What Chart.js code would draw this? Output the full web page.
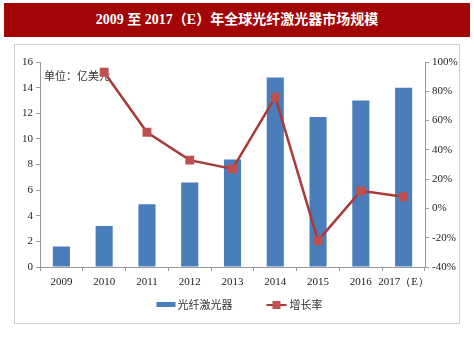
<!DOCTYPE html>
<html>
<head>
<meta charset="utf-8">
<script src="https://cdn.jsdelivr.net/npm/chart.js@4/dist/chart.umd.min.js"></script>
<style>
  html, body { margin: 0; padding: 0; background: #fff; width: 474px; height: 356px; overflow: hidden; }
  #title { position: absolute; left: 4px; top: 3px; width: 466px; height: 34px; background: #A10505;
    color: #fff; font: bold 14px "Liberation Serif", "Noto Sans CJK SC", serif; text-align: center; line-height: 34px; }
  #frame { position: absolute; left: 14px; top: 44px; width: 444px; height: 278px; border: 1px solid #cfcfcf; }
  canvas { display: block; }
</style>
</head>
<body>
<div id="title">2009 至 2017（E）年全球光纤激光器市场规模</div>
<div id="frame"><canvas id="c" width="444" height="278"></canvas></div>
<script>
const categories = ["2009", "2010", "2011", "2012", "2013", "2014", "2015", "2016", "2017（E）"];
const marketSize = [1.6, 3.2, 4.9, 6.6, 8.4, 14.8, 11.7, 13.0, 14.0];
const growthRate = [null, 93, 52, 33, 27, 76, -22, 12, 8];
const leftTicks = [0, 16, 2];
const rightTicks = [-40, 100, 20];
const seriesNames = ["光纤激光器", "增长率"];
const unitLabel = "单位：亿美元";

const BLUE = "#4A7EBB";
const RED_LINE = "#A83A3A";
const RED_PT = "#C0504D";

const unitPlugin = {
  id: "unit",
  beforeDatasetsDraw(chart) {
    const ctx = chart.ctx;
    ctx.save();
    ctx.fillStyle = "#333";
    ctx.font = '11px "Noto Sans CJK SC", sans-serif';
    ctx.textBaseline = "middle";
    ctx.fillText(unitLabel, chart.chartArea.left + 4, chart.chartArea.top + 14);
    ctx.restore();
  }
};

const legendPlugin = {
  id: "customLegend",
  afterDraw(chart) {
    const ctx = chart.ctx;
    const y = chart.chartArea.bottom + 38;
    const cx = (chart.chartArea.left + chart.chartArea.right) / 2;
    ctx.save();
    ctx.font = '11px "Noto Sans CJK SC", sans-serif';
    ctx.textBaseline = "middle";
    ctx.fillStyle = "#333";
    // item 1: bar
    let x = cx - 76;
    ctx.fillStyle = BLUE;
    ctx.fillRect(x, y - 3, 19, 5);
    ctx.fillStyle = "#333";
    ctx.fillText(seriesNames[0], x + 21, y);
    // item 2: line
    x = cx + 34;
    ctx.strokeStyle = RED_LINE; ctx.lineWidth = 2;
    ctx.beginPath(); ctx.moveTo(x, y); ctx.lineTo(x + 20, y); ctx.stroke();
    ctx.fillStyle = RED_PT; ctx.fillRect(x + 6, y - 4, 8, 8);
    ctx.fillStyle = "#333";
    ctx.fillText(seriesNames[1], x + 23, y);
    ctx.restore();
  }
};

const tickFont = { family: '"Liberation Serif", serif', size: 11 };

new Chart(document.getElementById("c"), {
  type: "bar",
  data: {
    labels: categories,
    datasets: [
      {
        type: "line", label: seriesNames[1], data: growthRate, yAxisID: "y1",
        borderColor: RED_LINE, borderWidth: 2.5, pointStyle: "rect", pointRadius: 4.5,
        pointBackgroundColor: RED_PT, pointBorderColor: RED_PT, tension: 0, order: 0,
        spanGaps: false
      },
      {
        type: "bar", label: seriesNames[0], data: marketSize, yAxisID: "y",
        backgroundColor: BLUE, categoryPercentage: 1, barPercentage: 0.4, order: 1
      }
    ]
  },
  options: {
    responsive: false,
    animation: false,
    layout: { padding: { top: 17, left: 0, right: 0, bottom: 34 } },
    plugins: {
      tooltip: { enabled: false },
      legend: { display: false }
    },
    scales: {
      x: {
        grid: { display: true, drawOnChartArea: false, offset: true, tickLength: 4, color: "#999" },
        border: { color: "#999" },
        ticks: { color: "#222", font: tickFont, maxRotation: 0, autoSkip: false, padding: 5 },
        afterFit(s) { s.height = 22; }
      },
      y: {
        position: "left", min: leftTicks[0], max: leftTicks[1],
        ticks: { stepSize: leftTicks[2], color: "#222", font: tickFont, padding: 3 },
        grid: { display: true, drawOnChartArea: false, tickLength: 4, color: "#999" },
        border: { color: "#999" },
        afterFit(s) { s.width = 25; }
      },
      y1: {
        position: "right", min: rightTicks[0], max: rightTicks[1],
        ticks: { stepSize: rightTicks[2], color: "#222", font: tickFont, padding: 3,
          callback: v => v + "%" },
        grid: { display: true, drawOnChartArea: false, tickLength: 4, color: "#999" },
        border: { color: "#999" },
        afterFit(s) { s.width = 34; }
      }
    }
  },
  plugins: [unitPlugin, legendPlugin]
});
</script>
</body>
</html>
